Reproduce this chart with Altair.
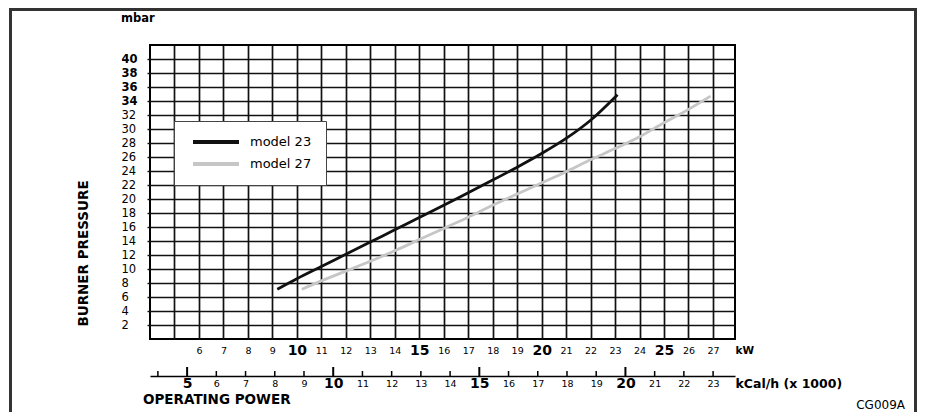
import altair as alt
import pandas as pd

# ---- data ----
models = ["model 23", "model 27"]
kw_23 = [9.2, 10, 11, 12, 13, 14, 15, 16, 17, 18, 19, 20, 21, 22, 23.1]
mbar_23 = [7.1, 8.6, 10.35, 12.1, 13.85, 15.6, 17.35, 19.1, 20.9, 22.7, 24.55, 26.5, 28.65, 31.25, 34.9]
kw_27 = [10.2, 11, 12, 13, 14, 15, 16, 17, 18, 19, 20, 21, 22, 23, 24, 25, 26, 26.9]
mbar_27 = [7.1, 8.3, 9.7, 11.1, 12.6, 14.2, 15.8, 17.4, 19.1, 20.7, 22.3, 23.9, 25.6, 27.2, 28.9, 30.9, 32.8, 34.7]

y_ticks = list(range(2, 41, 2))
kw_ticks = list(range(5, 28))
kcal_labels = list(range(5, 24))
kcal_major = [5, 10, 15, 20]
kcal_minor = [4, 6, 7, 8, 9, 11, 12, 13, 14, 16, 17, 18, 19, 21, 22, 23]

df = pd.DataFrame({
    "kW": kw_23 + kw_27,
    "mbar": mbar_23 + mbar_27,
    "model": [models[0]] * len(kw_23) + [models[1]] * len(kw_27),
})

W, H = 585, 294
KCAL_OFF = 37
FONT = "DejaVu Sans"

lines = alt.Chart(df).mark_line(strokeWidth=2.8, interpolate="monotone").encode(
    x=alt.X("kW:Q",
            scale=alt.Scale(domain=[4, 27.9], nice=False, zero=False),
            axis=alt.Axis(values=kw_ticks, title="kW", grid=True, gridColor="#111",
                          gridWidth=1.7, domain=False, ticks=False,
                          labelExpr="datum.value < 6 ? '' : datum.label",
                          labelFont=FONT, labelColor="#000",
                          labelFontSize={"condition": {"test": "datum.value % 5 == 0", "value": 14}, "value": 9.5},
                          labelFontWeight={"condition": {"test": "datum.value % 5 == 0", "value": "bold"}, "value": "normal"},
                          labelPadding=11, labelBaseline="middle", labelOverlap=False, labelFlush=False,
                          titleX=W, titleY=11, titleAlign="left", titleBaseline="middle", titleAngle=0,
                          titleFont=FONT, titleFontSize=10.5, titleFontWeight="bold", titleColor="#000")),
    y=alt.Y("mbar:Q",
            scale=alt.Scale(domain=[0, 42], nice=False),
            axis=alt.Axis(values=y_ticks, title="BURNER PRESSURE", grid=True, gridColor="#111",
                          gridWidth=1.4, domain=False, ticks=True, tickSize=3, tickColor="#111",
                          tickWidth=1.4, labelAlign="left", labelPadding=26, labelBaseline="middle",
                          labelFont=FONT, labelFontSize=11.5, labelColor="#000",
                          labelFontWeight={"condition": {"test": "datum.value >= 34", "value": "bold"}, "value": "normal"},
                          labelOverlap=False, labelFlush=False,
                          titleX=-67, titleY=208, titleAngle=270, titleAlign="center",
                          titleBaseline="middle", titleFont=FONT, titleFontSize=13.5,
                          titleFontWeight="bold", titleColor="#000")),
    color=alt.Color("model:N",
                    scale=alt.Scale(domain=models, range=["#111111", "#c6c6c6"]),
                    legend=alt.Legend(orient="none", legendX=24, legendY=76, title=None,
                                      fillColor="white", strokeColor="#444", padding=14,
                                      symbolType="stroke", symbolSize=2116, symbolStrokeWidth=4,
                                      clipHeight=14,
                                      symbolOffset=3, labelOffset=9, rowPadding=8,
                                      labelFont=FONT, labelFontSize=13, labelColor="#000")),
)

kcal_x = alt.X("kcal:Q",
               scale=alt.Scale(domain=[3.73, 23.75], nice=False, zero=False),
               axis=alt.Axis(orient="bottom", offset=KCAL_OFF, values=kcal_labels,
                             title="kCal/h (x 1000)", grid=False, domain=True,
                             domainColor="#000", domainWidth=1.5, ticks=False,
                             labelPadding=7, labelBaseline="middle", labelOverlap=False,
                             labelFlush=False, labelFont=FONT, labelColor="#000",
                             labelFontSize={"condition": {"test": "datum.value % 5 == 0", "value": 14}, "value": 9.5},
                             labelFontWeight={"condition": {"test": "datum.value % 5 == 0", "value": "bold"}, "value": "normal"},
                             titleX=W, titleY=7, titleAlign="left", titleBaseline="middle",
                             titleAngle=0, titleFont=FONT, titleFontSize=12.5,
                             titleFontWeight="bold", titleColor="#000"))

minor = alt.Chart(pd.DataFrame({"kcal": kcal_minor})).mark_rule(color="#000", strokeWidth=1.5).encode(
    x=kcal_x, y=alt.value(H + KCAL_OFF), y2=alt.value(H + KCAL_OFF - 5))
major = alt.Chart(pd.DataFrame({"kcal": kcal_major})).mark_rule(color="#000", strokeWidth=2).encode(
    x=kcal_x, y=alt.value(H + KCAL_OFF), y2=alt.value(H + KCAL_OFF - 9))
kcal = alt.layer(minor, major)

one = alt.Data(values=[{}])
frame = alt.Chart(one).mark_rect(fillOpacity=0, stroke="#333", strokeWidth=3).encode(
    x=alt.value(-139.5), x2=alt.value(765.5), y=alt.value(-35.5), y2=alt.value(430))
mbar_txt = alt.Chart(one).mark_text(align="left", baseline="middle", font=FONT,
                                     fontSize=11.5, fontWeight="bold", color="#000").encode(
    text=alt.value("mbar"), x=alt.value(-29), y=alt.value(-26))
op_txt = alt.Chart(one).mark_text(align="left", baseline="middle", font=FONT,
                                   fontSize=13.5, fontWeight="bold", color="#000").encode(
    text=alt.value("OPERATING POWER"), x=alt.value(-7), y=alt.value(355))
cg_txt = alt.Chart(one).mark_text(align="right", baseline="middle", font=FONT,
                                   fontSize=12, color="#000").encode(
    text=alt.value("CG009A"), x=alt.value(755), y=alt.value(360))

chart = alt.layer(frame, lines, kcal, mbar_txt, op_txt, cg_txt).resolve_scale(
    x="independent"
).properties(
    width=W, height=H,
    padding={"left": 142, "top": 37, "right": 182, "bottom": 73},
    autosize=alt.AutoSizeParams(type="none"),
    background="white",
).configure_view(stroke="#000", strokeWidth=2)

chart.save("out.html", embed_options={"renderer": "svg", "actions": False})
